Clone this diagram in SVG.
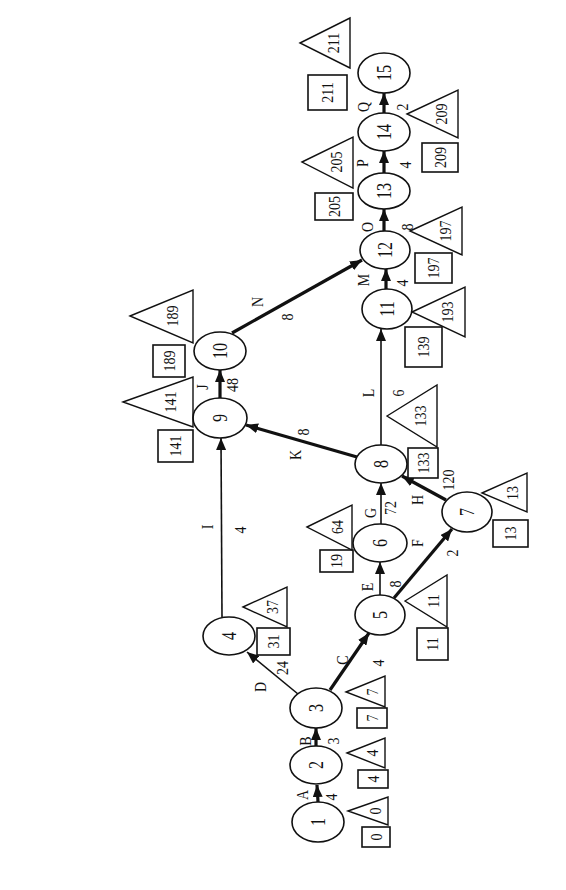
<svg xmlns="http://www.w3.org/2000/svg" width="566" height="890" viewBox="0 0 566 890">
<style>
  .n{fill:#fff;stroke:#111;stroke-width:1.6}
  .b{fill:#fff;stroke:#111;stroke-width:1.6}
  .t{fill:none;stroke:#111;stroke-width:1.4}
  .th{stroke:#111;stroke-width:1.6;fill:none}
  .tk{stroke:#111;stroke-width:3.2;fill:none}
  text{font-family:"Liberation Serif","Times New Roman",serif;fill:#111;text-anchor:middle;dominant-baseline:central}
  .nl{font-size:16px}
  .el{font-size:14px}
  .al{font-size:14px}
</style>
<defs>
  <marker id="ah" viewBox="0 0 12 10" refX="12" refY="5" markerWidth="12" markerHeight="10" markerUnits="userSpaceOnUse" orient="auto">
    <path d="M0,0 L12,5 L0,10 z" fill="#111"/>
  </marker>
</defs>
<rect width="566" height="890" fill="#fff"/>

<g id="connectors">
  <line class="tk" x1="318" y1="802" x2="317" y2="785" marker-end="url(#ah)"/>
  <line class="tk" x1="316" y1="746" x2="316" y2="728" marker-end="url(#ah)"/>
  <line class="tk" x1="330" y1="690" x2="369" y2="633" marker-end="url(#ah)"/>
  <line class="th" x1="298" y1="694" x2="247" y2="652" marker-end="url(#ah)"/>
  <line class="th" x1="380" y1="595" x2="380" y2="562" marker-end="url(#ah)"/>
  <line class="tk" x1="394" y1="598" x2="452" y2="529" marker-end="url(#ah)"/>
  <line class="th" x1="381" y1="524" x2="381" y2="483" marker-end="url(#ah)"/>
  <line class="tk" x1="446" y1="500" x2="402" y2="476" marker-end="url(#ah)"/>
  <line class="th" x1="222" y1="617" x2="221" y2="438" marker-end="url(#ah)"/>
  <line class="tk" x1="220" y1="398" x2="220" y2="370" marker-end="url(#ah)"/>
  <line class="tk" x1="357" y1="457" x2="246" y2="425" marker-end="url(#ah)"/>
  <line class="th" x1="381" y1="445" x2="381" y2="329" marker-end="url(#ah)"/>
  <line class="tk" x1="386" y1="289" x2="386" y2="269" marker-end="url(#ah)"/>
  <line class="tk" x1="232" y1="333" x2="362" y2="260" marker-end="url(#ah)"/>
  <line class="tk" x1="384" y1="231" x2="384" y2="209" marker-end="url(#ah)"/>
  <line class="tk" x1="384" y1="173" x2="384" y2="151" marker-end="url(#ah)"/>
  <line class="tk" x1="384" y1="113" x2="384" y2="93" marker-end="url(#ah)"/>

  <text class="el" transform="translate(302 795) scale(1.2 1) rotate(-90)">A</text>
  <text class="el" transform="translate(331 797) scale(1.2 1) rotate(-90)">4</text>
  <text class="el" transform="translate(305 741) scale(1.2 1) rotate(-90)">B</text>
  <text class="el" transform="translate(333 741) scale(1.2 1) rotate(-90)">3</text>
  <text class="el" transform="translate(342 660) scale(1.2 1) rotate(-90)">C</text>
  <text class="el" transform="translate(378 663) scale(1.2 1) rotate(-90)">4</text>
  <text class="el" transform="translate(260 687) scale(1.2 1) rotate(-90)">D</text>
  <text class="el" transform="translate(282 668) scale(1.2 1) rotate(-90)">24</text>
  <text class="el" transform="translate(367 587) scale(1.2 1) rotate(-90)">E</text>
  <text class="el" transform="translate(395 584) scale(1.2 1) rotate(-90)">8</text>
  <text class="el" transform="translate(417 543) scale(1.2 1) rotate(-90)">F</text>
  <text class="el" transform="translate(452 553) scale(1.2 1) rotate(-90)">2</text>
  <text class="el" transform="translate(370 513) scale(1.2 1) rotate(-90)">G</text>
  <text class="el" transform="translate(390 508) scale(1.2 1) rotate(-90)">72</text>
  <text class="el" transform="translate(417 500) scale(1.2 1) rotate(-90)">H</text>
  <text class="el" transform="translate(448 480) scale(1.2 1) rotate(-90)">120</text>
  <text class="el" transform="translate(207 527) scale(1.2 1) rotate(-90)">I</text>
  <text class="el" transform="translate(240 530) scale(1.2 1) rotate(-90)">4</text>
  <text class="el" transform="translate(202 387) scale(1.2 1) rotate(-90)">J</text>
  <text class="el" transform="translate(232 385) scale(1.2 1) rotate(-90)">48</text>
  <text class="el" transform="translate(295 455) scale(1.2 1) rotate(-90)">K</text>
  <text class="el" transform="translate(303 432) scale(1.2 1) rotate(-90)">8</text>
  <text class="el" transform="translate(368 393) scale(1.2 1) rotate(-90)">L</text>
  <text class="el" transform="translate(398 393) scale(1.2 1) rotate(-90)">6</text>
  <text class="el" transform="translate(363 280) scale(1.2 1) rotate(-90)">M</text>
  <text class="el" transform="translate(402 283) scale(1.2 1) rotate(-90)">4</text>
  <text class="el" transform="translate(257 302) scale(1.2 1) rotate(-90)">N</text>
  <text class="el" transform="translate(287 317) scale(1.2 1) rotate(-90)">8</text>
  <text class="el" transform="translate(367 227) scale(1.2 1) rotate(-90)">O</text>
  <text class="el" transform="translate(407 227) scale(1.2 1) rotate(-90)">8</text>
  <text class="el" transform="translate(362 163) scale(1.2 1) rotate(-90)">P</text>
  <text class="el" transform="translate(405 165) scale(1.2 1) rotate(-90)">4</text>
  <text class="el" transform="translate(363 107) scale(1.2 1) rotate(-90)">Q</text>
  <text class="el" transform="translate(402 107) scale(1.2 1) rotate(-90)">2</text>
</g>

<g id="node1">
  <ellipse class="n" cx="318" cy="822" rx="26" ry="20"/>
  <text class="nl" transform="translate(318 822) scale(1.25 1) rotate(-90)">1</text>
  <rect class="b" x="362" y="827" width="28" height="20"/>
  <text class="al" transform="translate(376 837) scale(1.2 1) rotate(-90)">0</text>
  <polygon class="t" points="348,811 388,797 388,825"/>
  <text class="al" transform="translate(375 811) scale(1.2 1) rotate(-90)">0</text>
</g>
<g id="node2">
  <ellipse class="n" cx="316" cy="765" rx="26" ry="19"/>
  <text class="nl" transform="translate(316 765) scale(1.25 1) rotate(-90)">2</text>
  <rect class="b" x="358" y="770" width="30" height="18"/>
  <text class="al" transform="translate(373 779) scale(1.2 1) rotate(-90)">4</text>
  <polygon class="t" points="347,753 385,738 385,768"/>
  <text class="al" transform="translate(372 753) scale(1.2 1) rotate(-90)">4</text>
</g>
<g id="node3">
  <ellipse class="n" cx="316" cy="708" rx="26" ry="20"/>
  <text class="nl" transform="translate(316 708) scale(1.25 1) rotate(-90)">3</text>
  <rect class="b" x="357" y="708" width="30" height="20"/>
  <text class="al" transform="translate(372 718) scale(1.2 1) rotate(-90)">7</text>
  <polygon class="t" points="346,692 385,676 385,707"/>
  <text class="al" transform="translate(372 692) scale(1.2 1) rotate(-90)">7</text>
</g>
<g id="node4">
  <ellipse class="n" cx="229" cy="636" rx="26" ry="19"/>
  <text class="nl" transform="translate(229 636) scale(1.25 1) rotate(-90)">4</text>
  <rect class="b" x="257" y="628" width="33" height="27"/>
  <text class="al" transform="translate(273.5 641.5) scale(1.2 1) rotate(-90)">31</text>
  <polygon class="t" points="243,607 287,587 287,627"/>
  <text class="al" transform="translate(272 607) scale(1.2 1) rotate(-90)">37</text>
</g>
<g id="node5">
  <ellipse class="n" cx="380" cy="615" rx="25" ry="20"/>
  <text class="nl" transform="translate(380 615) scale(1.25 1) rotate(-90)">5</text>
  <rect class="b" x="417" y="628" width="31" height="32"/>
  <text class="al" transform="translate(432.5 644) scale(1.2 1) rotate(-90)">11</text>
  <polygon class="t" points="405,601 447,575 447,627"/>
  <text class="al" transform="translate(433 601) scale(1.2 1) rotate(-90)">11</text>
</g>
<g id="node6">
  <ellipse class="n" cx="380" cy="543" rx="27" ry="19"/>
  <text class="nl" transform="translate(380 543) scale(1.25 1) rotate(-90)">6</text>
  <rect class="b" x="320" y="550" width="33" height="22"/>
  <text class="al" transform="translate(336.5 561) scale(1.2 1) rotate(-90)">19</text>
  <polygon class="t" points="307,527 352,505 352,550"/>
  <text class="al" transform="translate(337 527) scale(1.2 1) rotate(-90)">64</text>
</g>
<g id="node7">
  <ellipse class="n" cx="467" cy="512" rx="25" ry="20"/>
  <text class="nl" transform="translate(467 512) scale(1.25 1) rotate(-90)">7</text>
  <rect class="b" x="493" y="520" width="35" height="27"/>
  <text class="al" transform="translate(510.5 533.5) scale(1.2 1) rotate(-90)">13</text>
  <polygon class="t" points="482,493 527,473 527,512"/>
  <text class="al" transform="translate(512 493) scale(1.2 1) rotate(-90)">13</text>
</g>
<g id="node8">
  <ellipse class="n" cx="381" cy="464" rx="26" ry="19"/>
  <text class="nl" transform="translate(381 464) scale(1.25 1) rotate(-90)">8</text>
  <rect class="b" x="408" y="448" width="30" height="30"/>
  <text class="al" transform="translate(423 463) scale(1.2 1) rotate(-90)">133</text>
  <polygon class="t" points="387,416 437,385 437,447"/>
  <text class="al" transform="translate(420 416) scale(1.2 1) rotate(-90)">133</text>
</g>
<g id="node9">
  <ellipse class="n" cx="220" cy="418" rx="27" ry="20"/>
  <text class="nl" transform="translate(220 418) scale(1.25 1) rotate(-90)">9</text>
  <rect class="b" x="158" y="430" width="35" height="32"/>
  <text class="al" transform="translate(175.5 446) scale(1.2 1) rotate(-90)">141</text>
  <polygon class="t" points="123,402 193,377 193,427"/>
  <text class="al" transform="translate(170 402) scale(1.2 1) rotate(-90)">141</text>
</g>
<g id="node10">
  <ellipse class="n" cx="220" cy="351" rx="26" ry="19"/>
  <text class="nl" transform="translate(220 351) scale(1.25 1) rotate(-90)">10</text>
  <rect class="b" x="153" y="345" width="32" height="32"/>
  <text class="al" transform="translate(169 361) scale(1.2 1) rotate(-90)">189</text>
  <polygon class="t" points="130,316 193,290 193,343"/>
  <text class="al" transform="translate(172 316) scale(1.2 1) rotate(-90)">189</text>
</g>
<g id="node11">
  <ellipse class="n" cx="387" cy="309" rx="25" ry="20"/>
  <text class="nl" transform="translate(387 309) scale(1.25 1) rotate(-90)">11</text>
  <rect class="b" x="405" y="327" width="37" height="40"/>
  <text class="al" transform="translate(423.5 347) scale(1.2 1) rotate(-90)">139</text>
  <polygon class="t" points="412,312 465,287 465,337"/>
  <text class="al" transform="translate(447 312) scale(1.2 1) rotate(-90)">193</text>
</g>
<g id="node12">
  <ellipse class="n" cx="385" cy="250" rx="25" ry="19"/>
  <text class="nl" transform="translate(385 250) scale(1.25 1) rotate(-90)">12</text>
  <rect class="b" x="415" y="253" width="37" height="30"/>
  <text class="al" transform="translate(433.5 268) scale(1.2 1) rotate(-90)">197</text>
  <polygon class="t" points="410,231 462,207 462,255"/>
  <text class="al" transform="translate(445 231) scale(1.2 1) rotate(-90)">197</text>
</g>
<g id="node13">
  <ellipse class="n" cx="384" cy="191" rx="26" ry="18"/>
  <text class="nl" transform="translate(384 191) scale(1.25 1) rotate(-90)">13</text>
  <rect class="b" x="315" y="193" width="38" height="27"/>
  <text class="al" transform="translate(334 206.5) scale(1.2 1) rotate(-90)">205</text>
  <polygon class="t" points="302,162 353,137 353,188"/>
  <text class="al" transform="translate(336 162) scale(1.2 1) rotate(-90)">205</text>
</g>
<g id="node14">
  <ellipse class="n" cx="384" cy="132" rx="26" ry="19"/>
  <text class="nl" transform="translate(384 132) scale(1.25 1) rotate(-90)">14</text>
  <rect class="b" x="422" y="143" width="36" height="29"/>
  <text class="al" transform="translate(440 157.5) scale(1.2 1) rotate(-90)">209</text>
  <polygon class="t" points="407,114 458,90 458,138"/>
  <text class="al" transform="translate(441 114) scale(1.2 1) rotate(-90)">209</text>
</g>
<g id="node15">
  <ellipse class="n" cx="384" cy="73" rx="26" ry="20"/>
  <text class="nl" transform="translate(384 73) scale(1.25 1) rotate(-90)">15</text>
  <rect class="b" x="308" y="75" width="39" height="35"/>
  <text class="al" transform="translate(327.5 92.5) scale(1.2 1) rotate(-90)">211</text>
  <polygon class="t" points="300,43 350,18 350,68"/>
  <text class="al" transform="translate(333 43) scale(1.2 1) rotate(-90)">211</text>
</g>
</svg>
